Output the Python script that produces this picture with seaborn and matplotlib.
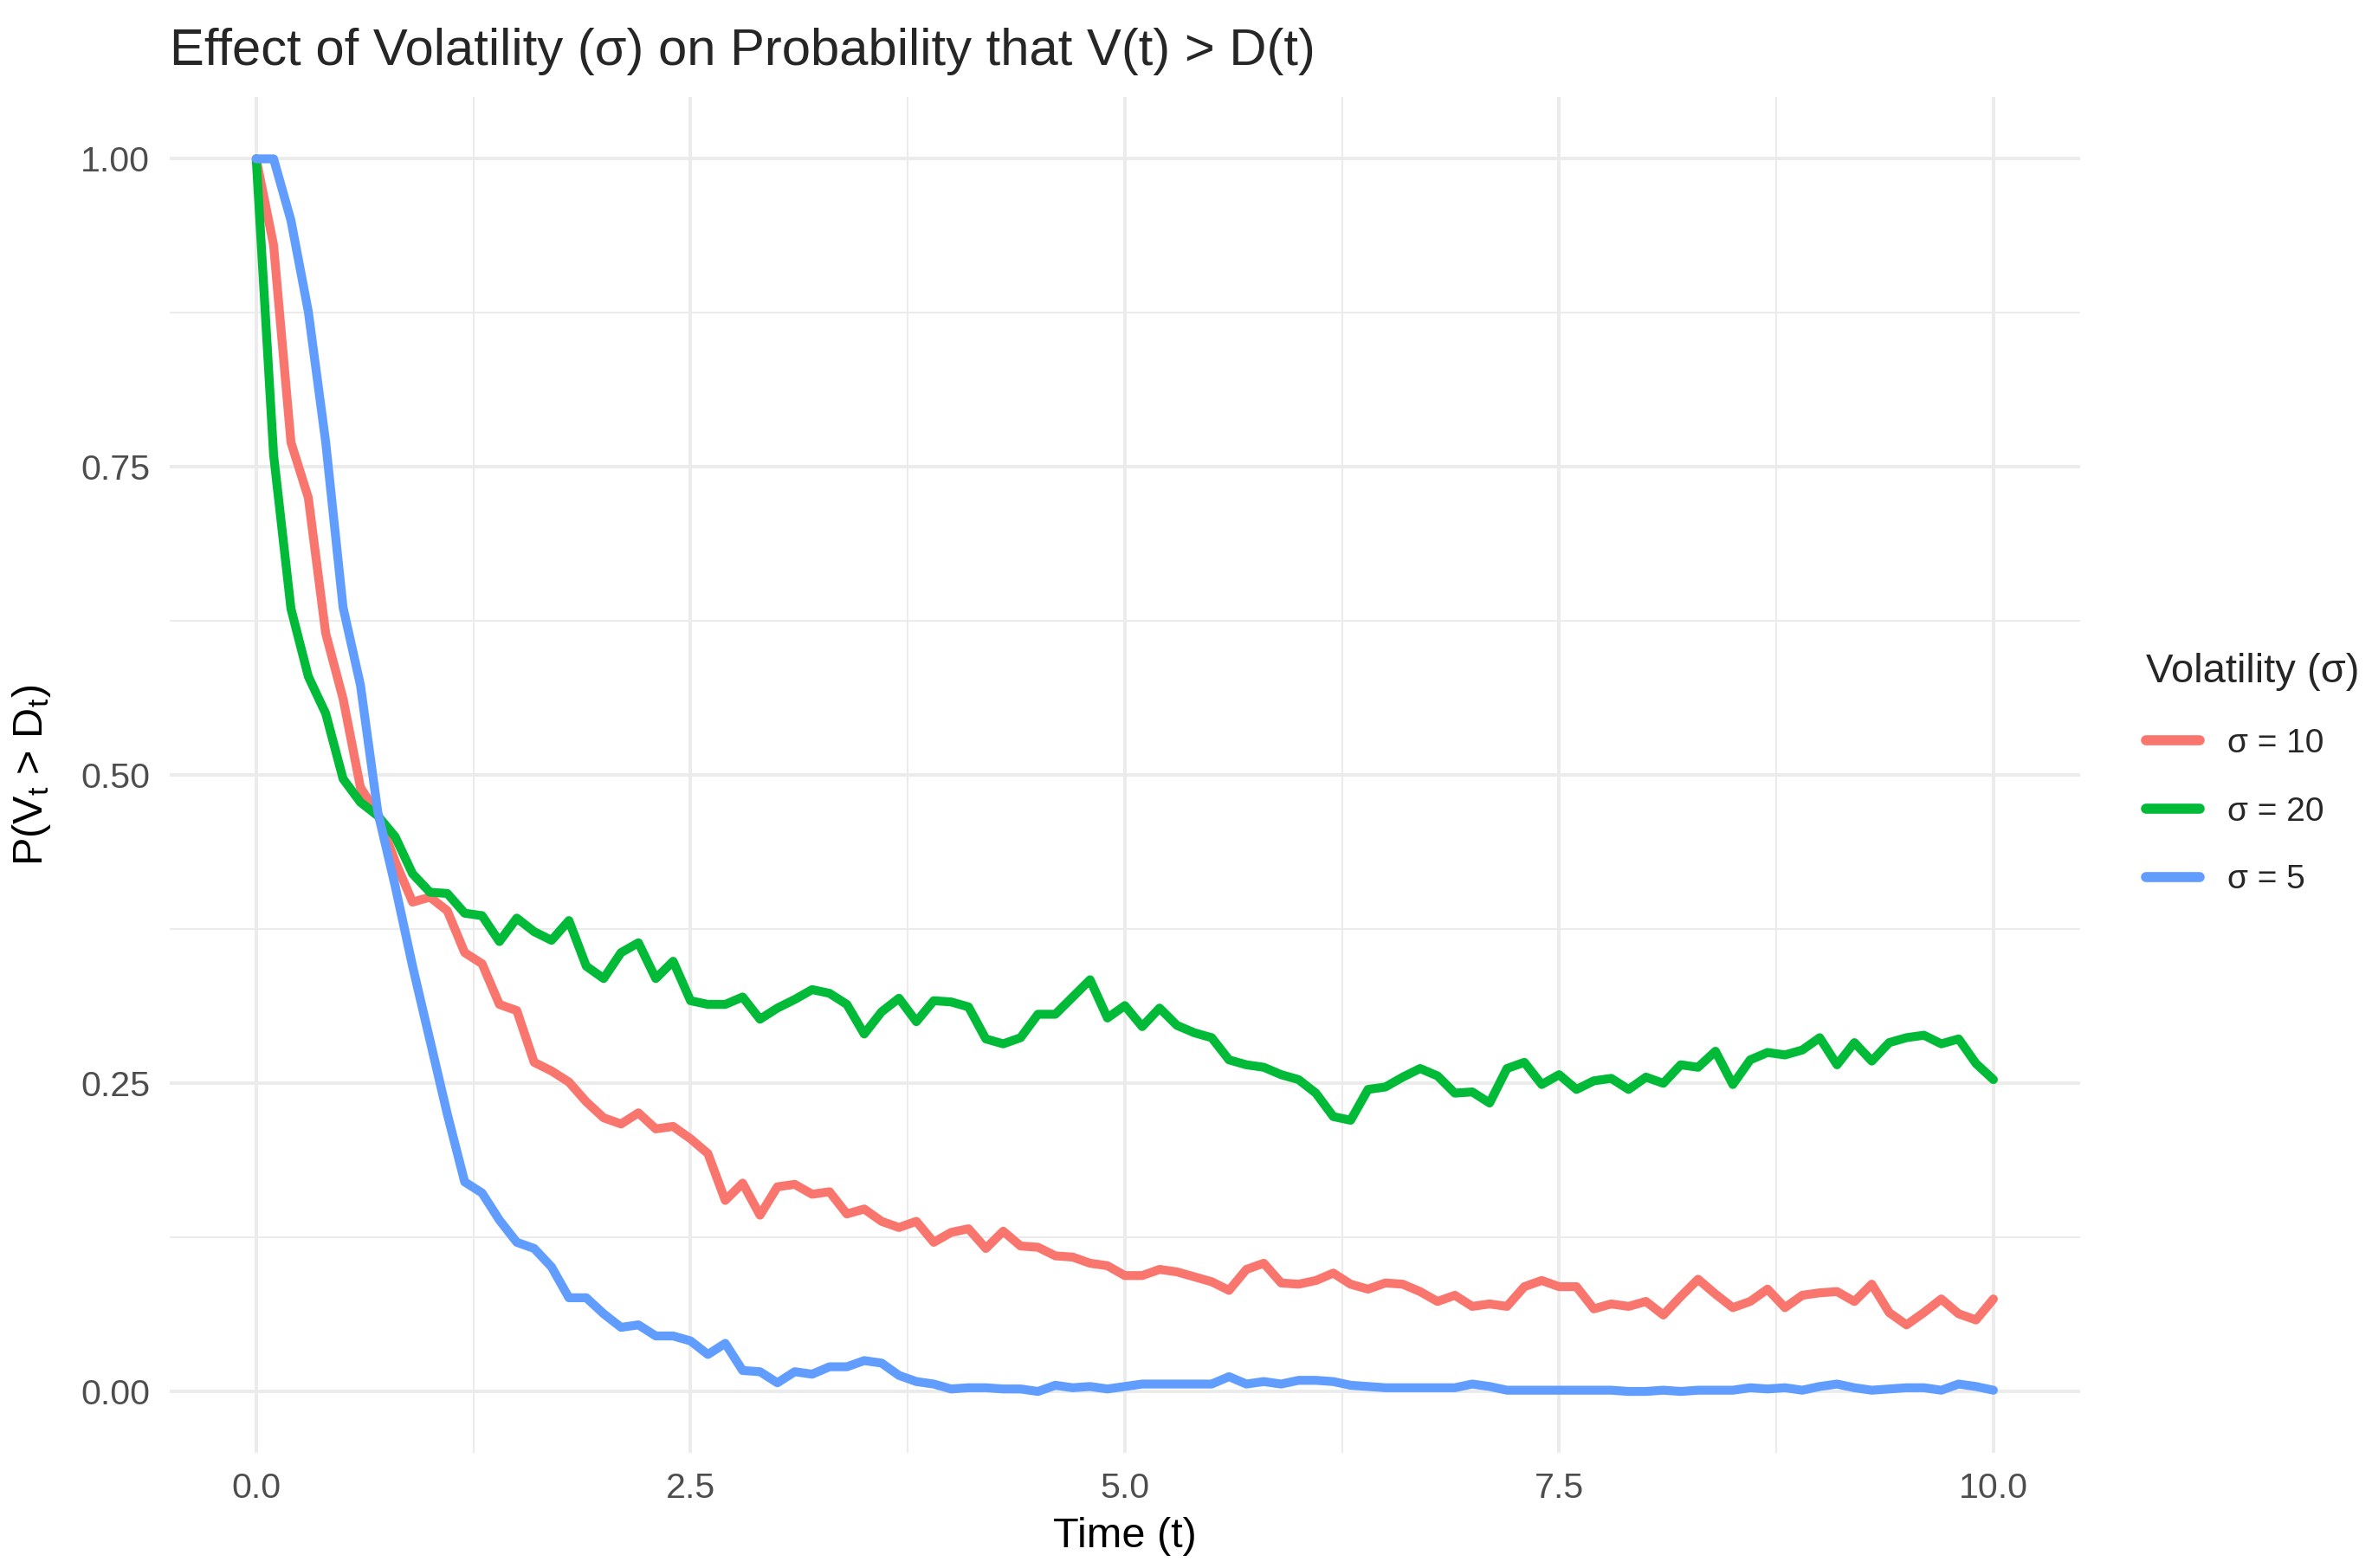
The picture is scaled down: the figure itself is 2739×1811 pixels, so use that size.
import numpy as np
import pandas as pd
import matplotlib
matplotlib.use("Agg")
import matplotlib.pyplot as plt
import seaborn as sns

# time grid (0 to 10 in steps of 0.1)
time = np.round(np.linspace(0, 10, 101), 1)

prob_sigma10 = [
    1.000, 0.930, 0.770, 0.725, 0.615, 0.562, 0.490, 0.468, 0.430, 0.397,
    0.401, 0.390, 0.356, 0.347, 0.314, 0.309, 0.267, 0.260, 0.251, 0.235,
    0.222, 0.217, 0.226, 0.213, 0.215, 0.205, 0.193, 0.155, 0.169, 0.143,
    0.166, 0.168, 0.160, 0.162, 0.144, 0.148, 0.138, 0.133, 0.138, 0.121,
    0.129, 0.132, 0.116, 0.130, 0.118, 0.117, 0.110, 0.109, 0.104, 0.102,
    0.094, 0.094, 0.099, 0.097, 0.093, 0.089, 0.082, 0.099, 0.104, 0.088,
    0.087, 0.090, 0.096, 0.087, 0.083, 0.088, 0.087, 0.081, 0.073, 0.078,
    0.069, 0.071, 0.069, 0.085, 0.090, 0.085, 0.085, 0.067, 0.071, 0.069,
    0.073, 0.062, 0.077, 0.091, 0.079, 0.068, 0.073, 0.083, 0.068, 0.078,
    0.080, 0.081, 0.073, 0.087, 0.064, 0.054, 0.064, 0.075, 0.063, 0.058,
    0.075,
]

prob_sigma20 = [
    1.000, 0.760, 0.635, 0.580, 0.550, 0.497, 0.478, 0.467, 0.450, 0.420,
    0.405, 0.404, 0.388, 0.386, 0.365, 0.384, 0.373, 0.366, 0.382, 0.345,
    0.335, 0.356, 0.364, 0.335, 0.349, 0.317, 0.314, 0.314, 0.320, 0.302,
    0.311, 0.318, 0.326, 0.323, 0.314, 0.290, 0.308, 0.319, 0.300, 0.317,
    0.316, 0.312, 0.286, 0.282, 0.287, 0.306, 0.306, 0.320, 0.334, 0.303,
    0.313, 0.296, 0.311, 0.297, 0.291, 0.287, 0.269, 0.265, 0.263, 0.257,
    0.253, 0.242, 0.223, 0.220, 0.245, 0.247, 0.255, 0.262, 0.256, 0.242,
    0.243, 0.234, 0.262, 0.267, 0.249, 0.257, 0.245, 0.252, 0.254, 0.245,
    0.255, 0.250, 0.265, 0.263, 0.276, 0.249, 0.269, 0.275, 0.273, 0.277,
    0.287, 0.265, 0.283, 0.268, 0.283, 0.287, 0.289, 0.282, 0.286, 0.266,
    0.253,
]

prob_sigma5 = [
    1.000, 1.000, 0.950, 0.876, 0.770, 0.636, 0.573, 0.470, 0.410, 0.345,
    0.285, 0.225, 0.170, 0.161, 0.139, 0.121, 0.116, 0.101, 0.076, 0.076,
    0.063, 0.052, 0.054, 0.045, 0.045, 0.041, 0.030, 0.039, 0.017, 0.016,
    0.007, 0.016, 0.014, 0.020, 0.020, 0.025, 0.023, 0.013, 0.008, 0.006,
    0.002, 0.003, 0.003, 0.002, 0.002, 0.000, 0.005, 0.003, 0.004, 0.002,
    0.004, 0.006, 0.006, 0.006, 0.006, 0.006, 0.012, 0.006, 0.008, 0.006,
    0.009, 0.009, 0.008, 0.005, 0.004, 0.003, 0.003, 0.003, 0.003, 0.003,
    0.006, 0.004, 0.001, 0.001, 0.001, 0.001, 0.001, 0.001, 0.001, 0.000,
    0.000, 0.001, 0.000, 0.001, 0.001, 0.001, 0.003, 0.002, 0.003, 0.001,
    0.004, 0.006, 0.003, 0.001, 0.002, 0.003, 0.003, 0.001, 0.006, 0.004,
    0.001,
]

sigma_labels = ["σ = 10", "σ = 20", "σ = 5"]
sigma_colors = ["#F8766D", "#00BA38", "#619CFF"]

x_ticks = [0, 2.5, 5, 7.5, 10]
x_tick_labels = ["0.0", "2.5", "5.0", "7.5", "10.0"]
y_ticks = [0, 0.25, 0.5, 0.75, 1.0]
y_tick_labels = ["0.00", "0.25", "0.50", "0.75", "1.00"]

df = pd.concat([
    pd.DataFrame({"time": time, "prob": vals, "sigma": lab})
    for vals, lab in zip([prob_sigma10, prob_sigma20, prob_sigma5], sigma_labels)
], ignore_index=True)

sns.set_theme(style="white")
plt.rcParams["font.family"] = ["Liberation Sans", "DejaVu Sans"]
plt.rcParams["mathtext.fontset"] = "custom"
plt.rcParams["mathtext.rm"] = "Liberation Sans"
plt.rcParams["mathtext.it"] = "Liberation Sans:italic"

fig = plt.figure(figsize=(13.695, 9.055), dpi=200)
ax = fig.add_axes([0.0714, 0.0733, 0.8056, 0.8647])

sns.lineplot(data=df, x="time", y="prob", hue="sigma", hue_order=sigma_labels,
             palette=dict(zip(sigma_labels, sigma_colors)), linewidth=3.7,
             ax=ax)

ax.set_xlim(-0.5, 10.5)
ax.set_ylim(-0.05, 1.05)
ax.set_xticks(x_ticks)
ax.set_xticklabels(x_tick_labels)
ax.set_yticks(y_ticks)
ax.set_yticklabels(y_tick_labels)
ax.set_xticks([1.25, 3.75, 6.25, 8.75], minor=True)
ax.set_yticks([0.125, 0.375, 0.625, 0.875], minor=True)
ax.grid(which="major", color="#EBEBEB", linewidth=1.4)
ax.grid(which="minor", color="#EBEBEB", linewidth=0.7)
ax.set_axisbelow(True)
for s in ax.spines.values():
    s.set_visible(False)
ax.tick_params(which="both", length=0, labelsize=14.8, labelcolor="#4D4D4D")
ax.tick_params(axis="x", pad=8)
ax.tick_params(axis="y", pad=8)

ax.set_xlabel("Time (t)", fontsize=17.5, color="black")
ax.xaxis.set_label_coords(0.5, -0.047)
ax.set_ylabel(r"P(V$_{\mathrm{t}}$ > D$_{\mathrm{t}}$)", fontsize=17.5, color="black")
ax.yaxis.set_label_coords(-0.061, 0.5)
ax.set_title("Effect of Volatility (σ) on Probability that V(t) > D(t)",
             loc="left", fontsize=21.5, pad=13.5)

handles, labels = ax.get_legend_handles_labels()
ax.get_legend().remove()
leg = fig.legend(handles, labels, title="Volatility (σ)", loc="upper left",
                 bbox_to_anchor=(0.892, 0.603), frameon=False, fontsize=14,
                 title_fontsize=17, handlelength=1.6, handletextpad=0.8,
                 labelspacing=1.1)
leg._legend_box.align = "left"
for h in leg.legend_handles:
    h.set_linewidth(4.2)

fig.savefig("out.png", dpi=200)
